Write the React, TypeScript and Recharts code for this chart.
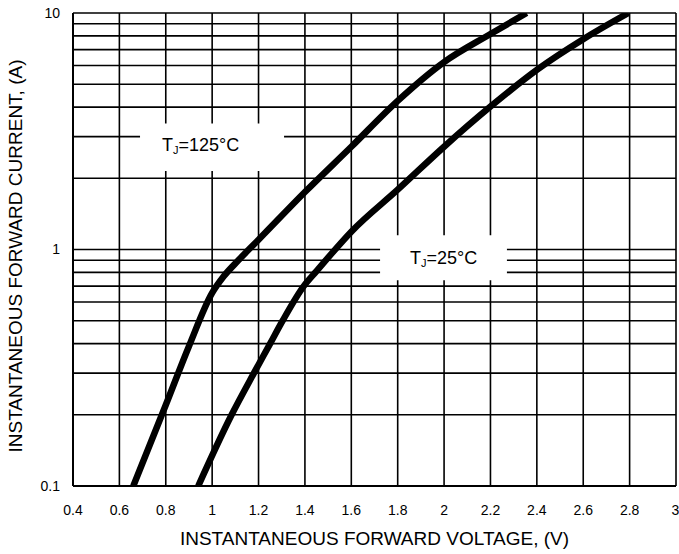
import React from 'react';
import { LineChart, Line, XAxis, YAxis, CartesianGrid, ReferenceArea, Label } from 'recharts';

const xTicks = [0.4, 0.6, 0.8, 1, 1.2, 1.4, 1.6, 1.8, 2, 2.2, 2.4, 2.6, 2.8, 3];
const yTicks = [0.1, 0.2, 0.3, 0.4, 0.5, 0.6, 0.7, 0.8, 0.9, 1, 2, 3, 4, 5, 6, 7, 8, 9, 10];
const yLabelTicks = [0.1, 1, 10];

const xTitle = 'INSTANTANEOUS FORWARD VOLTAGE, (V)';
const yTitle = 'INSTANTANEOUS FORWARD CURRENT, (A)';

const tj125 = [
  { v: 0.66, i: 0.1 },
  { v: 0.8, i: 0.22 },
  { v: 0.9, i: 0.39 },
  { v: 1.0, i: 0.655 },
  { v: 1.05, i: 0.77 },
  { v: 1.113, i: 0.9 },
  { v: 1.2, i: 1.1 },
  { v: 1.4, i: 1.75 },
  { v: 1.6, i: 2.72 },
  { v: 1.8, i: 4.25 },
  { v: 2.0, i: 6.2 },
  { v: 2.2, i: 8.15 },
  { v: 2.356, i: 10 },
];

const tj25 = [
  { v: 0.94, i: 0.1 },
  { v: 1.084, i: 0.2 },
  { v: 1.18, i: 0.3 },
  { v: 1.25, i: 0.4 },
  { v: 1.304, i: 0.5 },
  { v: 1.395, i: 0.7 },
  { v: 1.45, i: 0.81 },
  { v: 1.6, i: 1.19 },
  { v: 1.8, i: 1.79 },
  { v: 2.0, i: 2.72 },
  { v: 2.2, i: 4.02 },
  { v: 2.4, i: 5.75 },
  { v: 2.6, i: 7.75 },
  { v: 2.795, i: 10 },
];

const boxes = [
  { x1: 0.689, x2: 1.31, y1: 2.146, y2: 3.41, temp: '125°C', dx: 22, dy: 27 },
  { x1: 1.724, x2: 2.271, y1: 0.742, y2: 1.15, temp: '25°C', dx: 30, dy: 29 },
];

const FONT = '"Liberation Sans", Arial, sans-serif';

export default function App() {
  return (
    <div style={{ position: 'absolute', left: 0, top: 0, background: '#fff' }}>
      <LineChart
        width={679}
        height={554}
        margin={{ top: 13, right: 3, bottom: 28, left: 13 }}
        style={{ fontFamily: FONT }}
      >
        <CartesianGrid stroke="#000" strokeWidth={1.6} fill="none" />
        <XAxis
          type="number"
          dataKey="v"
          domain={[0.4, 3]}
          ticks={xTicks}
          allowDataOverflow
          height={40}
          tickLine={false}
          tickSize={6}
          tickMargin={13}
          axisLine={{ stroke: '#000', strokeWidth: 2 }}
          tick={{ fill: '#000', fontSize: 14, fontFamily: FONT }}
          tickFormatter={(v: number) => String(v)}
        >
          <Label
            content={(props: any) => {
              const vb = props.viewBox || {};
              return (
                <text
                  x={vb.x + vb.width / 2}
                  y={vb.y + 59}
                  textAnchor="middle"
                  fontSize={19}
                  fontFamily={FONT}
                  fill="#000"
                >
                  {xTitle}
                </text>
              );
            }}
          />
        </XAxis>
        <YAxis
          type="number"
          scale="log"
          domain={[0.1, 10]}
          ticks={yTicks}
          allowDataOverflow
          width={60}
          tickLine={false}
          tickSize={6}
          tickMargin={7}
          axisLine={{ stroke: '#000', strokeWidth: 2 }}
          tick={{ fill: '#000', fontSize: 14, fontFamily: FONT }}
          tickFormatter={(v: number) => (yLabelTicks.includes(v) ? String(v) : '')}
          interval={0}
        >
          <Label
            content={(props: any) => {
              const vb = props.viewBox || {};
              const x = vb.x + 9;
              const y = vb.y + 243;
              return (
                <text
                  x={x}
                  y={y}
                  transform={`rotate(-90, ${x}, ${y})`}
                  textAnchor="middle"
                  fontSize={19}
                  fontFamily={FONT}
                  fill="#000"
                >
                  {yTitle}
                </text>
              );
            }}
          />
        </YAxis>
        {boxes.map((b) => (
          <ReferenceArea
            key={b.temp}
            x1={b.x1}
            x2={b.x2}
            y1={b.y1}
            y2={b.y2}
            fill="#fff"
            fillOpacity={1}
            stroke="none"
            label={(props: any) => {
              const vb = props.viewBox || {};
              return (
                <text
                  x={vb.x + b.dx}
                  y={vb.y + b.dy}
                  fontSize={18}
                  fontFamily={FONT}
                  fill="#000"
                >
                  <tspan>T</tspan>
                  <tspan fontSize={11} dy={3}>J</tspan>
                  <tspan dy={-3}>={b.temp}</tspan>
                </text>
              );
            }}
          />
        ))}
        <Line
          data={tj125}
          dataKey="i"
          type="monotone"
          stroke="#000"
          strokeWidth={6.5}
          dot={false}
          activeDot={false}
          isAnimationActive={false}
        />
        <Line
          data={tj25}
          dataKey="i"
          type="monotone"
          stroke="#000"
          strokeWidth={6.5}
          dot={false}
          activeDot={false}
          isAnimationActive={false}
        />
      </LineChart>
    </div>
  );
}
